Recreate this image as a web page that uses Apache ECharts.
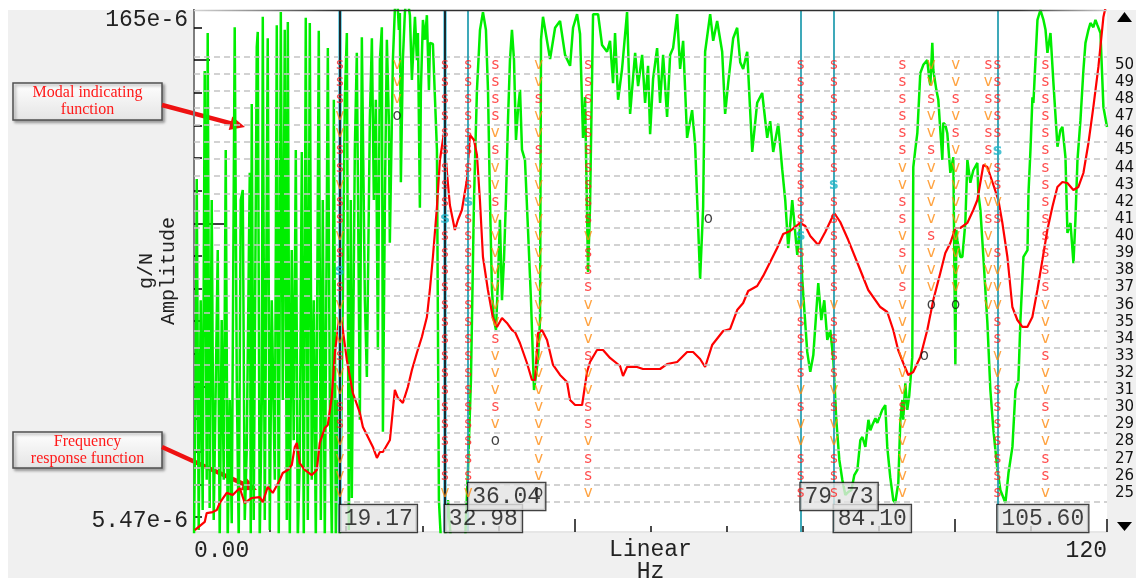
<!DOCTYPE html>
<html>
<head>
<meta charset="utf-8">
<title>Stabilization diagram</title>
<script src="https://cdn.jsdelivr.net/npm/echarts@6.0.0/dist/echarts.min.js"></script>
<style>
  html, body { margin: 0; padding: 0; background: #ffffff; }
  #wrap { position: relative; width: 1136px; height: 578px; }
  #panel { position: absolute; left: 8px; top: 10px; right: 0; bottom: 0; background: #f0f0f0; }
  #chart { position: absolute; left: 0; top: 0; width: 1136px; height: 578px; }
</style>
</head>
<body>
<div id="wrap"><div id="panel"></div><div id="chart"></div></div>
<script>
// ---- axes ----
const freqRange = [0, 120];
const freqLabels = ['0.00', '120'];
const ampRange = [5.47e-6, 165e-6];
const ampLabels = ['5.47e-6', '165e-6'];
const mifRange = [0, 1];
const orderRange = [22.72, 53.21];
const modelOrders = [50, 49, 48, 47, 46, 45, 44, 43, 42, 41, 40, 39, 38, 37, 36, 35, 34, 33, 32, 31, 30, 29, 28, 27, 26, 25];
const ampTickMarks = [0.46, 1.46, 2.46, 3.46, 4.46, 5.46, 6.46, 7.46, 8.46, 9.46, 10.46, 11.46, 12.46, 13.46, 14.46, 15.46];
const ampTickMarksLong = [4.46, 14.46];
const ampTickMarksLongest = [9.46];

// ---- frequency response function: [Hz, amplitude in 1e-6 g/N] ----
const frfPoints = [[0.1,5.54],[1.41,5.84],[1.67,6.19],[2.46,6.23],[2.99,6.31],[3.38,6.61],[4.30,7.06],[5.09,6.96],[6.01,7.29],[6.67,6.61],[7.59,6.83],[8.64,6.87],[9.04,6.65],[9.69,7.34],[10.35,7.06],[11.27,7.68],[11.66,8.04],[12.33,8.20],[12.85,8.47],[13.25,9.53],[13.51,9.78],[13.90,8.58],[14.56,8.20],[15.48,7.93],[16.14,8.20],[16.53,9.78],[17.19,10.78],[17.59,11.00],[18.11,13.20],[18.51,17.59],[19.17,22.84],[19.56,20.44],[20.09,16.81],[20.88,13.55],[21.80,11.90],[22.20,10.86],[22.86,10.17],[23.51,9.53],[24.04,8.87],[24.43,9.22],[24.83,9.22],[25.75,9.97],[26.40,13.82],[26.80,13.13],[27.45,12.70],[28.11,14.09],[28.64,15.75],[29.29,17.59],[29.95,19.53],[30.61,22.25],[31.00,26.54],[31.40,32.92],[31.93,45.62],[32.32,62.00],[32.85,73.94],[33.10,62.00],[33.63,46.22],[34.29,39.26],[34.69,41.90],[35.21,44.73],[35.87,54.41],[36.27,72.99],[36.80,70.64],[37.19,64.05],[37.58,47.75],[37.98,32.92],[38.63,26.54],[39.29,22.11],[39.82,20.85],[40.48,22.11],[41.13,21.40],[41.79,20.44],[42.19,20.17],[42.84,18.78],[43.76,16.48],[44.42,14.75],[44.82,14.75],[45.21,20.04],[45.74,20.44],[46.40,19.15],[47.19,16.27],[48.11,15.24],[49.03,14.56],[49.43,12.94],[50.09,12.53],[51.01,12.53],[51.66,15.54],[52.05,16.59],[52.97,17.94],[53.76,17.94],[54.68,17.03],[56.00,16.16],[56.39,15.14],[56.92,16.06],[58.23,16.06],[59.02,15.85],[61.26,15.85],[62.18,16.37],[63.50,16.59],[64.81,17.71],[65.60,17.71],[66.52,16.92],[67.18,16.06],[68.10,18.53],[69.55,20.31],[70.47,20.58],[71.39,23.29],[72.18,24.38],[72.84,26.37],[74.02,27.25],[74.81,29.09],[75.73,31.86],[76.65,34.91],[77.44,38.25],[78.36,39.01],[79.68,41.10],[80.34,40.30],[81.00,37.75],[82.05,35.60],[82.97,38.75],[84.15,43.87],[84.94,41.36],[85.99,36.77],[87.31,31.24],[88.62,26.54],[90.20,23.75],[91.12,22.99],[91.91,20.44],[92.55,17.94],[93.22,16.48],[93.88,15.24],[94.53,15.54],[95.46,17.14],[96.38,20.44],[97.17,24.86],[98.09,29.66],[98.75,33.79],[99.41,36.07],[100.07,39.78],[100.72,39.78],[101.64,41.10],[102.43,44.73],[102.96,47.75],[103.75,60.01],[104.28,59.22],[105.07,52.66],[105.72,47.75],[106.25,41.10],[106.91,32.92],[107.56,23.75],[108.22,21.82],[108.88,20.85],[109.53,20.85],[110.19,22.25],[110.85,26.54],[111.51,32.28],[112.16,39.26],[112.82,45.62],[113.48,51.98],[114.14,53.70],[114.79,53.35],[115.58,50.95],[116.24,51.98],[116.90,56.95],[117.56,69.27],[118.21,87.63],[118.87,113.8],[119.53,157.7],[120,175]];

// ---- modal indicating function: [Hz, value] ----
const mifPoints = [[0,-0.015],[0.22,0.291],[0.36,0.676],[0.62,0.004],[0.88,0.444],[1.14,0.042],[1.41,0.883],[1.67,0.100],[1.80,0.956],[2.06,0.046],[2.33,0.636],[2.59,0.023],[2.85,0.272],[3.12,0.540],[3.38,-0.015],[3.64,0.406],[3.91,0.100],[4.17,0.732],[4.43,-0.015],[4.70,0.253],[4.96,0.017],[5.35,0.967],[5.62,0.291],[5.88,-0.015],[6.14,0.636],[6.41,0.655],[6.67,0.023],[6.93,0.157],[7.33,0.688],[7.46,-0.015],[7.59,0.820],[7.85,0.023],[8.25,0.929],[8.38,0.958],[8.64,-0.015],[8.91,0.253],[9.04,0.987],[9.30,0.023],[9.56,0.636],[9.69,0.946],[9.96,0.004],[10.22,0.444],[10.62,0.100],[10.88,0.971],[11.14,-0.015],[11.41,0.996],[11.67,0.253],[11.93,0.962],[12.20,0.023],[12.33,0.977],[12.59,-0.015],[12.85,0.540],[13.11,0.176],[13.38,0.732],[13.64,-0.015],[13.90,0.138],[14.17,0.728],[14.43,-0.015],[14.69,0.985],[14.96,0.023],[15.22,0.975],[15.48,0.100],[15.75,0.444],[16.01,-0.015],[16.40,0.960],[16.67,0.023],[16.93,0.636],[17.19,-0.015],[17.59,0.927],[17.85,0.253],[18.12,-0.015],[18.38,0.828],[18.64,-0.015],[18.90,0.253],[19.17,-0.015],
[19.56,0.444],[19.82,0.828],[20.09,0.956],[20.35,0.004],[20.61,0.636],[20.74,0.065],[21.14,0.732],[21.40,0.918],[21.80,0.215],[22.06,0.948],[22.46,0.444],[22.72,0.297],[23.11,0.789],[23.38,0.946],[23.64,0.636],[23.90,0.828],[24.17,0.349],[24.43,0.904],[24.69,0.967],[24.83,0.192],[25.09,0.636],[25.35,0.943],[25.61,0.789],[25.74,0.554],[26.14,0.904],[26.40,1.0],[26.67,1.038],[26.93,0.962],[27.06,0.994],[27.19,0.670],[27.45,0.904],[27.72,0.996],[27.98,1.029],[28.38,0.990],[28.64,0.866],[29.04,0.987],[29.30,0.904],[29.43,0.956],[29.69,0.621],[29.82,0.847],[30.09,0.981],[30.35,0.943],[30.61,0.990],[30.88,0.847],[31.01,0.937],[31.40,0.935],[31.66,0.937],[31.93,0.732],[32.19,0.061],[32.45,-0.015],
[32.98,-0.015],[33.37,0.061],[33.77,-0.015],[35.61,-0.025],[36.01,0.119],[36.40,0.291],[36.80,0.636],[37.19,0.847],[37.59,0.962],[37.98,0.996],[38.37,0.962],[38.64,0.847],[38.90,0.636],[39.16,0.464],[39.42,0.406],[39.69,0.387],[39.95,0.483],[40.21,0.598],[40.48,0.444],[40.74,0.521],[41.00,0.636],[41.27,0.789],[41.53,0.904],[41.79,0.962],[42.06,0.904],[42.32,0.751],[42.58,0.808],[42.85,0.847],[43.11,0.732],[43.50,0.713],[43.90,0.579],[44.29,0.444],[44.69,0.272],[44.95,0.272],[45.21,0.330],[45.48,0.406],[45.61,0.943],[45.87,0.987],
[46.80,0.906],[47.46,0.966],[48.11,0.979],[48.77,0.914],[49.43,0.893],[49.82,0.966],[50.35,0.992],[50.74,0.954],[51.13,0.755],[51.40,0.833],[51.79,0.498],[52.05,0.623],[52.45,0.992],[53.11,0.992],[53.63,0.933],[54.29,0.920],[54.68,0.941],[55.08,0.860],[55.34,0.956],[55.74,0.828],[56.26,0.887],[56.92,0.996],[57.32,0.801],[57.98,0.918],[58.37,0.854],[58.90,0.914],[59.29,0.822],[59.68,0.893],[59.95,0.762],[60.34,0.868],[60.87,0.927],[61.26,0.822],[61.66,0.914],[62.18,0.795],[62.58,0.914],[62.97,0.927],[63.50,0.992],[63.89,0.887],[64.29,0.941],[64.81,0.755],[65.47,0.808],[65.87,0.741],[66.52,0.485],[66.92,0.623],[67.18,0.920],[67.84,0.992],[68.24,0.941],[68.76,0.979],[69.42,0.920],[69.81,0.801],[70.21,0.860],[70.87,0.946],[71.39,0.966],[71.79,0.900],[72.18,0.887],[72.71,0.920],[73.37,0.728],[74.02,0.822],[74.68,0.841],[75.34,0.755],[75.73,0.787],[76.13,0.728],[76.79,0.782],[77.31,0.695],[77.71,0.636],[78.10,0.544],[78.63,0.636],[79.29,0.531],[79.68,0.590],[79.94,0.485],[80.60,0.345],[81.00,0.307],[81.40,0.339],[82.05,0.477],
[82.45,0.406],[82.84,0.444],[83.24,0.368],[83.63,0.387],[84.03,0.330],[84.42,0.215],[84.82,0.138],[85.21,0.100],[85.61,0.071],[86.00,0.077],[86.40,0.080],[86.79,0.109],[87.19,0.119],[87.58,0.176],[87.85,0.182],[88.24,0.163],[88.64,0.215],[88.90,0.195],[89.16,0.205],[89.56,0.218],[89.82,0.209],[90.20,0.224],[90.46,0.234],[90.86,0.243],[91.12,0.163],[91.51,0.105],[91.91,0.061],[92.17,0.056],[92.57,0.094],[92.84,0.215],[93.10,0.253],[93.22,0.215],[93.49,0.285],[93.75,0.234],[94.01,0.262],[94.41,0.335],[94.54,0.699],[94.80,0.732],[95.07,0.764],[95.46,0.879],[95.86,0.895],[96.38,0.904],[96.65,0.866],[96.78,0.856],[97.04,0.937],[97.17,0.885],[97.57,0.847],[97.83,0.828],[98.09,0.770],[98.36,0.713],[98.49,0.784],[98.75,0.780],[99.01,0.764],[99.41,0.688],[99.80,0.718],[100.07,0.320],[100.20,0.579],[100.33,0.559],[100.72,0.527],[100.99,0.527],[101.38,0.592],[101.65,0.713],[102.04,0.669],[102.43,0.693],[102.96,0.707],[103.09,0.649],[103.36,0.617],[103.75,0.527],[104.28,0.400],[104.67,0.272],[105.07,0.195],[105.60,0.119],[105.99,0.080],[106.65,0.056],[107.05,0.113],[107.57,0.163],[107.97,0.272],[108.36,0.291],[108.62,0.406],[109.02,0.527],[109.55,0.540],[109.68,0.649],[109.94,0.732],[110.20,0.833],[110.33,0.822],[110.60,0.904],[110.86,0.981],[111.25,1.000],[111.65,0.981],[111.92,0.962],[112.17,0.918],[112.57,0.956],[112.96,0.860],[113.49,0.738],[113.88,0.770],[114.14,0.776],[114.54,0.718],[114.80,0.573],[115.20,0.592],[115.59,0.515],[115.85,0.598],[116.12,0.713],[116.51,0.789],[116.90,0.885],[117.17,0.937],[117.56,0.962],[117.82,0.975],[118.21,0.967],[118.48,0.981],[118.74,0.971],[119.14,0.956],[119.53,0.814],[120.00,0.776]];

// ---- stabilization poles: one code per model order 50..25 ----
// s = stable, v = stable frequency, o = new pole, S = selected pole, . = none
const poleFreqs = [19.17, 26.7, 32.98, 36.04, 39.6, 45.3, 51.8, 79.73, 84.10, 93.1, 96.9, 100.1, 104.4, 105.6, 111.9];
const poleCodes = [
  'sssvvssvssvsSsvvvsvvssvvvv',
  'vvvo......................',
  'sssssssssSsssssssssssssssv',
  'ssssssssSssssssssssssssssv',
  'ssssvsvvsvvvvvvvsvvvsvo...',
  'vvsvvsvvvvvvvvvvvvvvvvvvvo',
  'ssssssssssvsssvvvsvvssvssv',
  'ssssssssssSsssvssssvsvvsss',
  'sssssssSssssssvssssvsvvsss',
  'ssssssvvssvsvsvvvvvvsvvvvv',
  'vvsvvsvvvvsvvvo...........',
  'vvsvsvvvvvvvvvo...........',
  'svsvssvvvsvvvvv...........',
  'sssssSssvs.svvvssvvsssssss',
  'ssssssssssssssvvvsvvsvvssv'
];
const extraPoles = [[67.6, 41, 'o'], [96.0, 33, 'o']];

// ---- frequency cursors ----
const cursorFreqs = [19.17, 32.98, 36.04, 79.73, 84.10, 105.60];
const cursorTexts = ['19.17', '32.98', '36.04', '79.73', '84.10', '105.60'];
const cursorTier = [0, 0, 1, 1, 0, 0];
const cursorActive = [true, true, false, false, false, false];

const MONO = '"Liberation Mono", "DejaVu Sans Mono", monospace';
const SANS = '"DejaVu Sans", sans-serif';
const SERIF = '"Liberation Serif", "DejaVu Serif", serif';

// pole letters grouped by kind
const poleGroups = { s: [], v: [], o: [], S: [] };
poleFreqs.forEach((f, i) => {
  Array.from(poleCodes[i]).forEach((ch, j) => {
    if (poleGroups[ch]) poleGroups[ch].push({ value: [f, modelOrders[j]], name: ch === 'S' ? 's' : ch });
  });
});
extraPoles.forEach(([f, n, ch]) => poleGroups[ch].push({ value: [f, n], name: ch }));

const poleLook = {
  s: { color: '#ff1f1f', fontSize: 15, fontWeight: 'normal' },
  v: { color: '#ff8c12', fontSize: 15, fontWeight: 'normal' },
  o: { color: '#111111', fontSize: 15, fontWeight: 'normal' },
  S: { color: '#1cb4c8', fontSize: 16, fontWeight: 'bold' }
};

const poleSeries = Object.keys(poleGroups).map(k => ({
  type: 'scatter',
  xAxisIndex: 0,
  yAxisIndex: 1,
  data: poleGroups[k],
  symbolSize: 0.1,
  itemStyle: { color: 'rgba(0,0,0,0)' },
  silent: true,
  z: 7,
  label: {
    show: true,
    position: 'inside',
    formatter: p => p.name,
    color: poleLook[k].color,
    fontSize: poleLook[k].fontSize,
    fontWeight: poleLook[k].fontWeight,
    fontFamily: SANS
  }
}));

// horizontal guides between model orders
const orderGuides = modelOrders.map(n => n - 0.5).concat([modelOrders[0] + 0.5]);

// cursor value boxes, lower tier first so the upper tier overlaps it
const cursorOrder = cursorFreqs.map((f, i) => i).sort((a, b) => cursorTier[a] - cursorTier[b]);
const cursorBoxes = cursorOrder.map(i => ({
  value: [cursorFreqs[i], orderRange[0]],
  name: cursorTexts[i],
  label: { position: [0, cursorTier[i] === 0 ? -27 : -49] }
}));

const cursorLines = [];
cursorFreqs.forEach((f, i) => {
  if (cursorActive[i]) {
    cursorLines.push({ xAxis: f, lineStyle: { color: '#7fd3e6', width: 4, type: 'solid' } });
    cursorLines.push({ xAxis: f, lineStyle: { color: '#000000', width: 1.6, type: 'solid' } });
  } else {
    cursorLines.push({ xAxis: f, lineStyle: { color: '#2aa0b2', width: 1.8, type: 'solid' } });
  }
});

const chart = echarts.init(document.getElementById('chart'), null, { renderer: 'canvas' });

const arrowHead = (tip, from, len, half) => {
  const dx = tip[0] - from[0], dy = tip[1] - from[1];
  const d = Math.hypot(dx, dy), ux = dx / d, uy = dy / d;
  const bx = tip[0] - ux * len, by = tip[1] - uy * len;
  return [tip, [bx - uy * half, by + ux * half], [bx + uy * half, by - ux * half]];
};

const noteBox = (x, y, w, h, lines) => ({
  type: 'group',
  z: 100,
  children: [
    {
      type: 'rect',
      shape: { x: x, y: y, width: w, height: h },
      style: {
        fill: new echarts.graphic.LinearGradient(0, 0, 0, 1, [
          { offset: 0, color: '#ffffff' }, { offset: 1, color: '#e4e4e4' }
        ]),
        stroke: '#505050', lineWidth: 1.5,
        shadowBlur: 3, shadowOffsetX: 2, shadowOffsetY: 2, shadowColor: 'rgba(0,0,0,0.35)'
      }
    },
    {
      type: 'text',
      x: x + w / 2, y: y + h / 2,
      style: {
        text: lines.join('\n'), fill: '#ff1a1a', font: '16px ' + SERIF,
        align: 'center', verticalAlign: 'middle', lineHeight: 17
      }
    }
  ]
});

const arrow = (from, tip) => ({
  type: 'group',
  z: 101,
  children: [
    { type: 'line', shape: { x1: from[0], y1: from[1], x2: tip[0] - (tip[0] - from[0]) * 0.1, y2: tip[1] - (tip[1] - from[1]) * 0.1 },
      style: { stroke: '#ee1111', lineWidth: 4.5 } },
    { type: 'polygon', shape: { points: arrowHead(tip, from, 15, 7) }, style: { fill: '#ee1111' } }
  ]
});

const option = {
  animation: false,
  backgroundColor: 'transparent',
  grid: {
    left: 194, right: 29, top: 10, bottom: 46, show: true, backgroundColor: '#ffffff', borderWidth: 0,
    containLabel: false, outerBoundsMode: 'none'
  },
  xAxis: [
    {
      type: 'value', min: freqRange[0], max: freqRange[1], interval: 10,
      name: 'Linear\nHz', nameLocation: 'middle', nameGap: 7, nameMoveOverlap: false,
      nameTextStyle: { fontFamily: MONO, fontSize: 23, color: '#222', lineHeight: 22, verticalAlign: 'top' },
      axisLine: { show: true, lineStyle: { color: '#e6e6e6', width: 2 } },
      axisTick: { show: true, inside: true, length: 6, lineStyle: { color: '#111', width: 1.5 } },
      axisLabel: {
        show: true, customValues: freqRange, margin: 7,
        formatter: v => (v === freqRange[0] ? freqLabels[0] : freqLabels[1]),
        alignMinLabel: 'left', alignMaxLabel: 'right',
        fontFamily: MONO, fontSize: 23, color: '#222'
      },
      splitLine: { show: false }
    },
    {
      type: 'value', min: freqRange[0], max: freqRange[1], interval: 50, position: 'bottom',
      axisLine: { show: false },
      axisTick: { show: true, inside: true, length: 13, lineStyle: { color: '#111', width: 1.5 } },
      axisLabel: { show: false }, splitLine: { show: false }
    }
  ],
  yAxis: [
    {
      type: 'log', logBase: 10, min: ampRange[0], max: ampRange[1], position: 'left',
      name: 'g/N\nAmplitude', nameLocation: 'middle', nameRotate: 90, nameGap: 14, nameMoveOverlap: false,
      nameTextStyle: { fontFamily: MONO, fontSize: 20, color: '#222', lineHeight: 22 },
      axisLine: { show: true, lineStyle: { color: '#000', width: 2 } },
      axisTick: { show: false },
      axisLabel: {
        show: true, margin: 6,
        formatter: v => {
          if (Math.abs(v / ampRange[0] - 1) < 0.01) return '{lo|' + ampLabels[0] + '}';
          if (Math.abs(v / ampRange[1] - 1) < 0.01) return '{hi|' + ampLabels[1] + '}';
          return '';
        },
        rich: {
          lo: { fontFamily: MONO, fontSize: 23, color: '#222', padding: [0, 0, 22, 0] },
          hi: { fontFamily: MONO, fontSize: 23, color: '#222', padding: [20, 0, 0, 0] }
        }
      },
      splitLine: { show: false }
    },
    {
      type: 'value', min: orderRange[0], max: orderRange[1], position: 'right',
      axisLine: { show: true, lineStyle: { color: '#a8a8a8', width: 1.5 } },
      axisTick: { show: false },
      axisLabel: { show: true, customValues: modelOrders, margin: 8, fontFamily: SANS, fontSize: 15, color: '#111' },
      splitLine: { show: false }
    },
    {
      type: 'value', min: mifRange[0], max: mifRange[1], show: false
    },
    {
      type: 'value', min: 0, max: 16, position: 'left',
      axisLine: { show: false },
      axisTick: { show: true, inside: true, length: 8, customValues: ampTickMarks, lineStyle: { color: '#000', width: 1.5 } },
      axisLabel: { show: false }, splitLine: { show: false }
    },
    {
      type: 'value', min: 0, max: 16, position: 'left',
      axisLine: { show: false },
      axisTick: { show: true, inside: true, length: 16, customValues: ampTickMarksLong, lineStyle: { color: '#000', width: 1.5 } },
      axisLabel: { show: false }, splitLine: { show: false }
    },
    {
      type: 'value', min: 0, max: 16, position: 'left',
      axisLine: { show: false },
      axisTick: { show: true, inside: true, length: 30, customValues: ampTickMarksLongest, lineStyle: { color: '#000', width: 1.5 } },
      axisLabel: { show: false }, splitLine: { show: false }
    }
  ],
  series: [
    {
      name: 'order guides', type: 'scatter', xAxisIndex: 0, yAxisIndex: 1, data: [], z: 1, silent: true,
      markLine: {
        silent: true, symbol: ['none', 'none'], label: { show: false },
        lineStyle: { color: '#c4c4c4', width: 1.5, type: [6, 4] },
        data: orderGuides.map(v => ({ yAxis: v }))
      }
    },
    {
      name: 'Modal indicating function', type: 'line', xAxisIndex: 0, yAxisIndex: 2,
      data: mifPoints, showSymbol: false, symbol: 'none', z: 2, silent: true,
      lineStyle: { color: '#00ee00', width: 2.5 }
    },
    {
      name: 'Frequency response function', type: 'line', xAxisIndex: 0, yAxisIndex: 0,
      data: frfPoints.map(p => [p[0], p[1] * 1e-6]), showSymbol: false, symbol: 'none', z: 3, silent: true,
      lineStyle: { color: '#ff0000', width: 2.2 }
    },
    {
      name: 'cursors', type: 'scatter', xAxisIndex: 0, yAxisIndex: 1, data: [], z: 4, silent: true,
      markLine: { silent: true, symbol: ['none', 'none'], label: { show: false }, data: cursorLines }
    },
    {
      name: 'cursor values', type: 'scatter', xAxisIndex: 0, yAxisIndex: 1, z: 5, silent: true,
      data: cursorBoxes, symbolSize: 0.1, itemStyle: { color: 'rgba(0,0,0,0)' },
      label: {
        show: true, formatter: p => p.name,
        fontFamily: MONO, fontSize: 23, color: '#111', lineHeight: 24,
        backgroundColor: '#e4e4e4', borderColor: '#111', borderWidth: 1.3,
        padding: [2, 4, 1, 4], align: 'left', verticalAlign: 'top'
      }
    }
  ].concat(poleSeries),
  graphic: [
    {
      type: 'line', z: 50,
      shape: { x1: 194, y1: 10.5, x2: 1107, y2: 10.5 },
      style: {
        stroke: new echarts.graphic.LinearGradient(0, 0, 1, 0, [
          { offset: 0, color: '#d8d8d8' }, { offset: 0.16, color: '#303030' },
          { offset: 0.9, color: '#303030' }, { offset: 1, color: '#d0d0d0' }
        ]),
        lineWidth: 1.5
      }
    },
    { type: 'polygon', z: 50, shape: { points: [[1124.5, 12], [1117, 22], [1132, 22]] }, style: { fill: '#000' } },
    { type: 'polygon', z: 50, shape: { points: [[1117, 522], [1132, 522], [1124.5, 531]] }, style: { fill: '#000' } },
    noteBox(13, 83, 149, 37, ['Modal indicating', 'function']),
    arrow([162, 105], [245, 127]),
    noteBox(13, 432, 149, 36, ['Frequency', 'response function']),
    arrow([162, 447], [257, 490])
  ]
};

chart.setOption(option);
</script>
</body>
</html>
